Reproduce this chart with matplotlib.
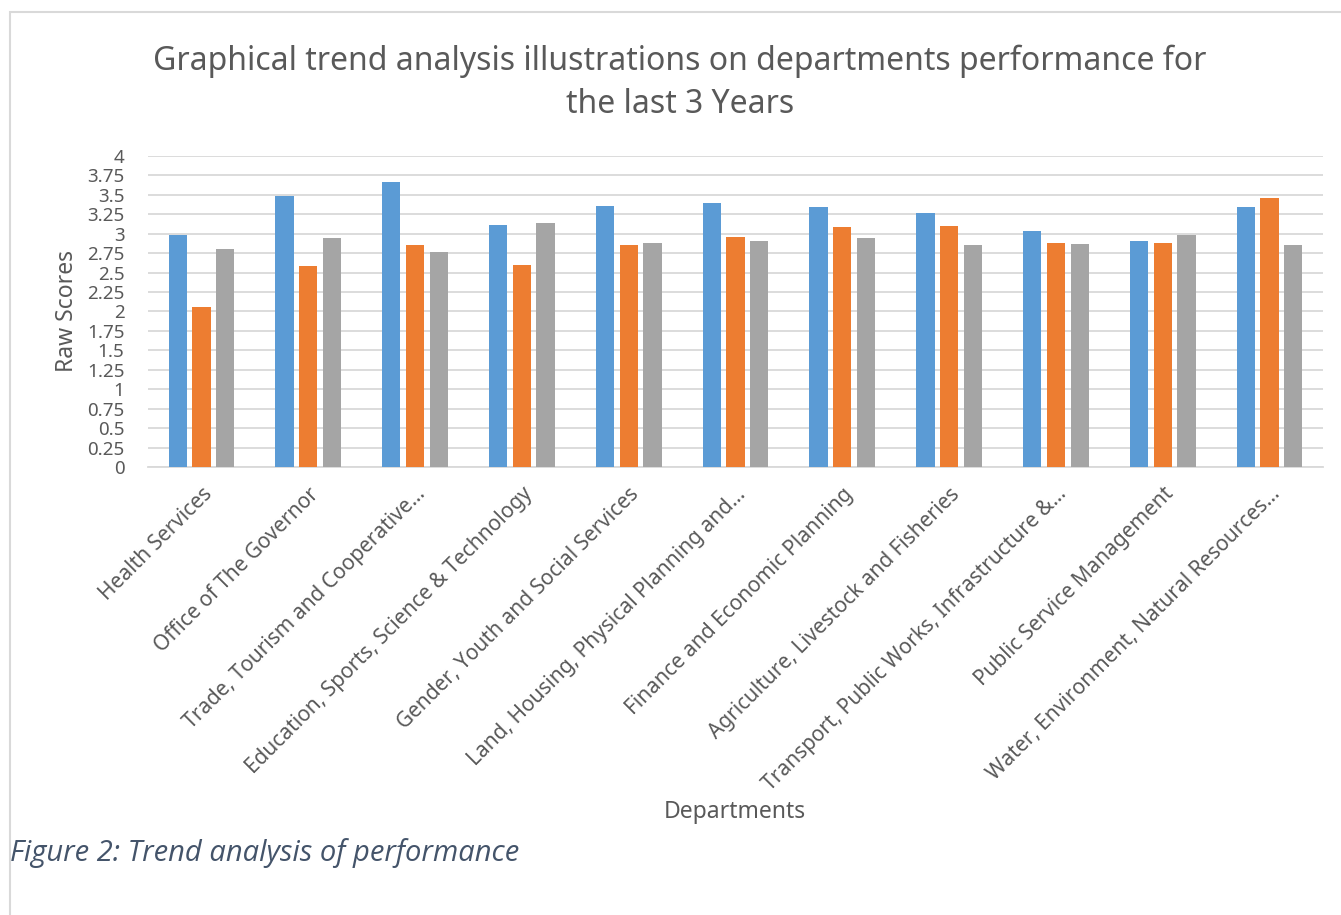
import matplotlib.pyplot as plt
import numpy as np
from matplotlib.patches import Rectangle

plt.rcParams['font.family'] = ['Noto Sans', 'DejaVu Sans']

departments = [
    'Health Services',
    'Office of The Governor',
    'Trade, Tourism and Cooperative…',
    'Education, Sports, Science & Technology',
    'Gender, Youth and Social Services',
    'Land, Housing, Physical Planning and…',
    'Finance and Economic Planning',
    'Agriculture, Livestock and Fisheries',
    'Transport, Public Works, Infrastructure &…',
    'Public Service Management',
    'Water, Environment, Natural Resources…',
]
year1 = [2.98, 3.49, 3.67, 3.11, 3.36, 3.40, 3.35, 3.27, 3.03, 2.91, 3.35]
year2 = [2.06, 2.59, 2.86, 2.60, 2.86, 2.96, 3.09, 3.10, 2.88, 2.88, 3.46]
year3 = [2.81, 2.94, 2.77, 3.14, 2.88, 2.91, 2.95, 2.86, 2.87, 2.98, 2.85]
yticks = np.arange(0, 4.01, 0.25)
ytick_labels = ['0', '0.25', '0.5', '0.75', '1', '1.25', '1.5', '1.75', '2',
                '2.25', '2.5', '2.75', '3', '3.25', '3.5', '3.75', '4']

text_col = '#595959'
colors = ['#5B9BD5', '#ED7D31', '#A5A5A5']

fig = plt.figure(figsize=(13.41, 9.15), dpi=100)
# chart border
fig.add_artist(Rectangle((10 / 1341, -0.1), 1.2, 1 - 12 / 915 + 0.1,
                         transform=fig.transFigure, fill=False,
                         edgecolor='#D9D9D9', linewidth=1.5))

ax = fig.add_axes([148 / 1341, 1 - 467 / 915, (1323 - 148) / 1341, (467 - 156) / 915])
x = np.arange(len(departments))
w = 0.171
step = 0.222
for i, (vals, c) in enumerate(zip([year1, year2, year3], colors)):
    ax.bar(x + (i - 1) * step, vals, width=w, color=c, zorder=3)

ax.set_xlim(-0.5, len(departments) - 0.5)
ax.set_ylim(0, 4)
ax.set_yticks(yticks)
ax.set_yticklabels(ytick_labels)
ax.yaxis.grid(True, color='#D9D9D9', linewidth=1.3, zorder=0)
ax.set_axisbelow(True)
for s in ['top', 'right', 'left']:
    ax.spines[s].set_visible(False)
ax.spines['bottom'].set_color('#D9D9D9')
ax.spines['bottom'].set_linewidth(1.3)
ax.tick_params(axis='both', length=0, colors=text_col)
ax.tick_params(axis='y', pad=17, labelsize=13.5)
ax.set_xticks(x)
ax.set_xticklabels(departments, rotation=45, ha='right', rotation_mode='anchor')
ax.tick_params(axis='x', pad=12, labelsize=15)

ax.set_ylabel('Raw Scores', color=text_col, fontsize=16.5, labelpad=6)
fig.text(735 / 1341, 1 - 812 / 915, 'Departments', color=text_col, fontsize=16.5,
         ha='center', va='center')

fig.text(680 / 1341, 1 - 83 / 915,
         'Graphical trend analysis illustrations on departments performance for\nthe last 3 Years',
         color=text_col, fontsize=23, ha='center', va='center', linespacing=1.4)

fig.text(10 / 1341, 1 - 853 / 915, 'Figure 2: Trend analysis of performance',
         color='#44546A', fontsize=21, fontstyle='italic', family=['Open Sans', 'DejaVu Sans'],
         ha='left', va='center')

fig.savefig('out.png', dpi=100)
